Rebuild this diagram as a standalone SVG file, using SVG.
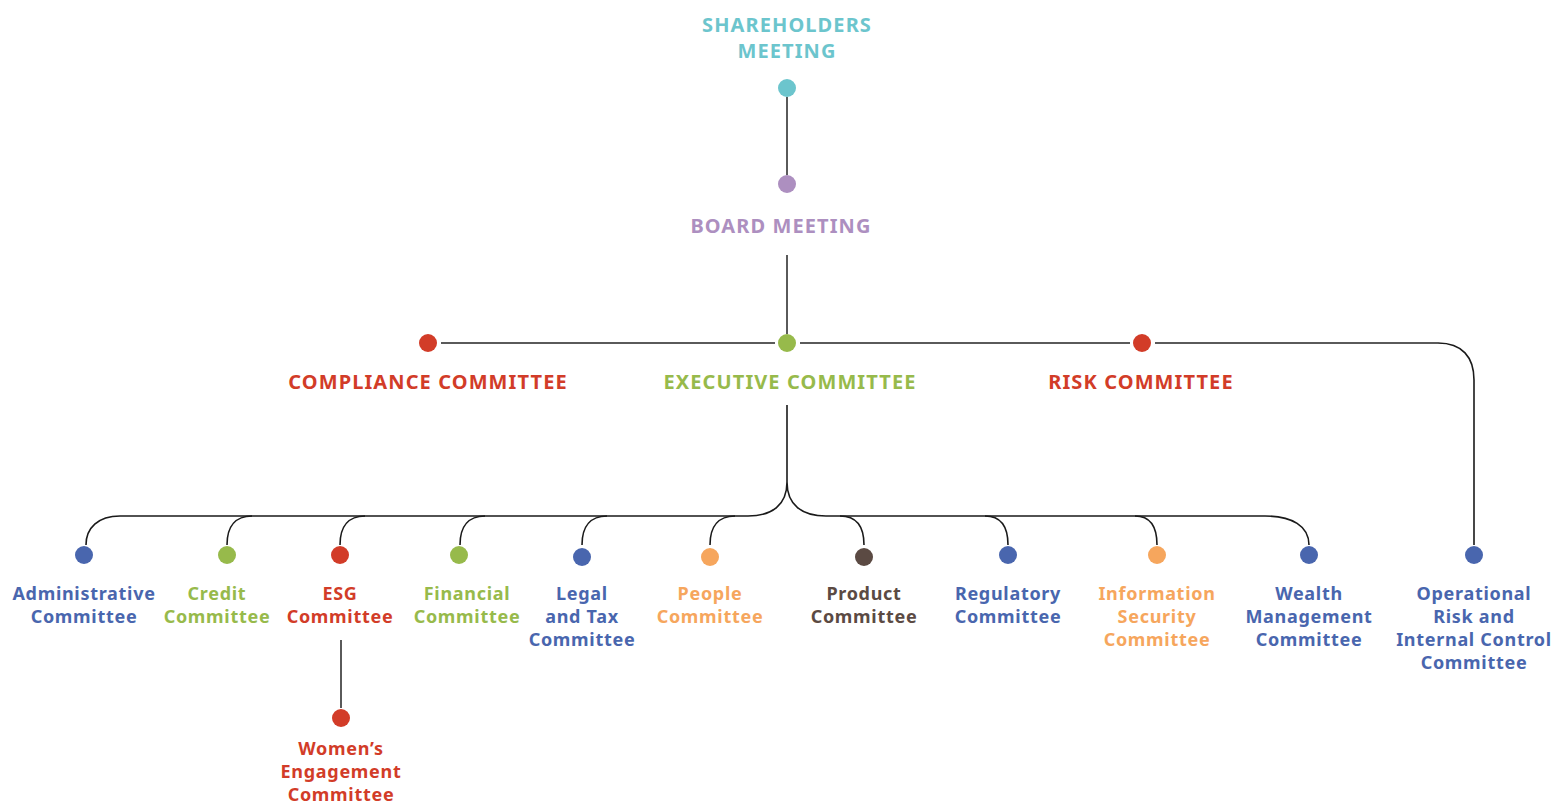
<svg xmlns="http://www.w3.org/2000/svg" width="1555" height="803" viewBox="0 0 1555 803">
<style>
text{font-family:"Noto Sans","Open Sans","DejaVu Sans",sans-serif;font-weight:700;text-anchor:middle}
.h{font-size:20px;letter-spacing:1.1px}
.s{font-size:18px;letter-spacing:0.7px}
.bus{fill:none;stroke:#5a5a5a;stroke-width:2}
.cur{fill:none;stroke:#1a1a1a;stroke-width:1.6}
.teal{fill:#6cc5cd}.purple{fill:#ad8fc0}.red{fill:#d23c28}.green{fill:#97ba4b}.blue{fill:#4966ae}.orange{fill:#f6a65d}.brown{fill:#5b4a43}
</style>
<rect width="1555" height="803" fill="#fff"/>
<g id="connectors">
<path class="bus" d="M787,97 V175"/>
<path class="bus" d="M787,255 V334"/>
<path class="bus" d="M441,343 H775"/>
<path class="bus" d="M800,343 H1130"/>
<path class="bus" d="M1155,343 H1438"/>
<path class="cur" d="M1438,343 C1462,343 1474,357 1474,380 V545"/>
<path class="cur" d="M787,405 V482 C787,505 772,516 748,516 M787,482 C787,505 802,516 826,516"/>
<path class="cur" d="M120,516 H748 M826,516 H1265"/>
<path class="cur" d="M120,516 C98,516 86,528 86,545"/>
<path class="cur" d="M252,516 C236,516 227,526 227,545"/>
<path class="cur" d="M365,516 C349,516 340,526 340,545"/>
<path class="cur" d="M485,516 C469,516 460,526 460,545"/>
<path class="cur" d="M607,516 C591,516 582,526 582,545"/>
<path class="cur" d="M735,516 C719,516 710,526 710,545"/>
<path class="cur" d="M840,516 C856,516 864,526 864,545"/>
<path class="cur" d="M985,516 C1000,516 1008,526 1008,545"/>
<path class="cur" d="M1135,516 C1150,516 1157,526 1157,545"/>
<path class="cur" d="M1265,516 C1292,516 1309,526 1309,545"/>
<path class="bus" d="M341,640 V708"/>
</g>
<g id="shareholders"><text class="h teal" x="787" y="32">SHAREHOLDERS</text><text class="h teal" x="787" y="58">MEETING</text><circle class="teal" cx="787" cy="88" r="9"/></g>
<g id="board"><circle class="purple" cx="787" cy="184" r="9"/><text class="h purple" x="781" y="233">BOARD MEETING</text></g>
<g id="compliance"><circle class="red" cx="428" cy="343" r="9"/><text class="h red" x="428" y="389">COMPLIANCE COMMITTEE</text></g>
<g id="executive"><circle class="green" cx="787" cy="343" r="9"/><text class="h green" x="790" y="389">EXECUTIVE COMMITTEE</text></g>
<g id="risk"><circle class="red" cx="1142" cy="343" r="9"/><text class="h red" x="1141" y="389">RISK COMMITTEE</text></g>
<g id="administrative"><circle class="blue" cx="84" cy="555" r="9"/><text class="s blue" x="84" y="600">Administrative</text><text class="s blue" x="84" y="623">Committee</text></g>
<g id="credit"><circle class="green" cx="227" cy="555" r="9"/><text class="s green" x="217" y="600">Credit</text><text class="s green" x="217" y="623">Committee</text></g>
<g id="esg"><circle class="red" cx="340" cy="555" r="9"/><text class="s red" x="340" y="600">ESG</text><text class="s red" x="340" y="623">Committee</text></g>
<g id="financial"><circle class="green" cx="459" cy="555" r="9"/><text class="s green" x="467" y="600">Financial</text><text class="s green" x="467" y="623">Committee</text></g>
<g id="legal"><circle class="blue" cx="582" cy="557" r="9"/><text class="s blue" x="582" y="600">Legal</text><text class="s blue" x="582" y="623">and Tax</text><text class="s blue" x="582" y="646">Committee</text></g>
<g id="people"><circle class="orange" cx="710" cy="557" r="9"/><text class="s orange" x="710" y="600">People</text><text class="s orange" x="710" y="623">Committee</text></g>
<g id="product"><circle class="brown" cx="864" cy="557" r="9"/><text class="s brown" x="864" y="600">Product</text><text class="s brown" x="864" y="623">Committee</text></g>
<g id="regulatory"><circle class="blue" cx="1008" cy="555" r="9"/><text class="s blue" x="1008" y="600">Regulatory</text><text class="s blue" x="1008" y="623">Committee</text></g>
<g id="infosec"><circle class="orange" cx="1157" cy="555" r="9"/><text class="s orange" x="1157" y="600">Information</text><text class="s orange" x="1157" y="623">Security</text><text class="s orange" x="1157" y="646">Committee</text></g>
<g id="wealth"><circle class="blue" cx="1309" cy="555" r="9"/><text class="s blue" x="1309" y="600">Wealth</text><text class="s blue" x="1309" y="623">Management</text><text class="s blue" x="1309" y="646">Committee</text></g>
<g id="operational"><circle class="blue" cx="1474" cy="555" r="9"/><text class="s blue" x="1474" y="600">Operational</text><text class="s blue" x="1474" y="623">Risk and</text><text class="s blue" x="1474" y="646">Internal Control</text><text class="s blue" x="1474" y="669">Committee</text></g>
<g id="womens"><circle class="red" cx="341" cy="718" r="9"/><text class="s red" x="341" y="755">Women’s</text><text class="s red" x="341" y="778">Engagement</text><text class="s red" x="341" y="801">Committee</text></g>
</svg>
